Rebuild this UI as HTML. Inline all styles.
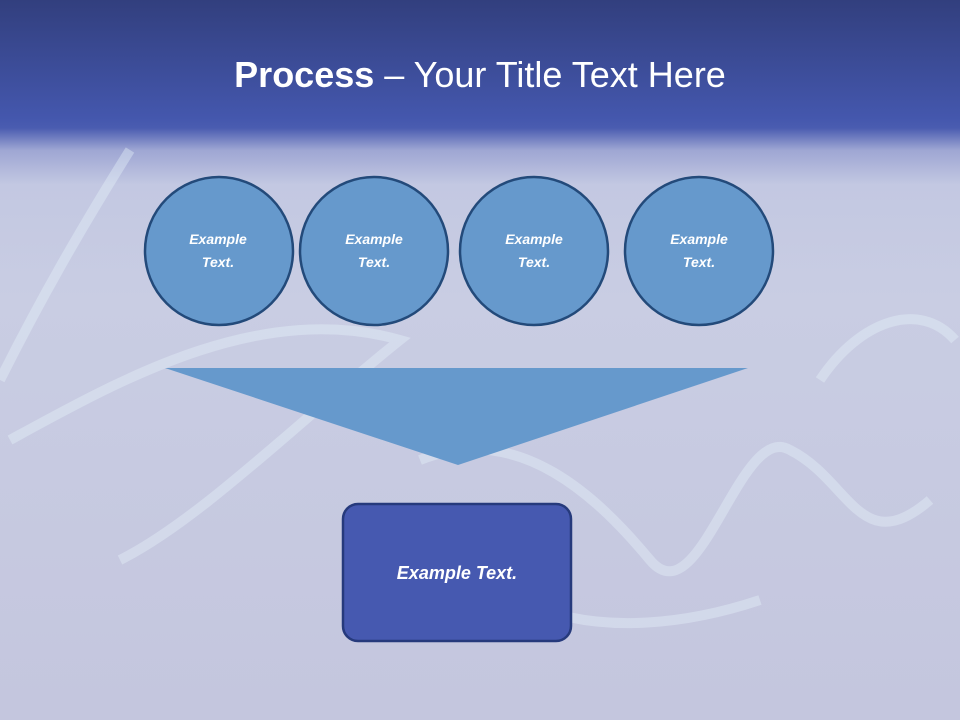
<!DOCTYPE html>
<html><head><meta charset="utf-8"><style>
html,body{margin:0;padding:0}
body{width:960px;height:720px;position:relative;overflow:hidden;font-family:"Liberation Sans",sans-serif;
background:linear-gradient(180deg,#323f7e 0px,#4457ad 118px,#4a5cb0 128px,#9ea6d3 150px,#c3c8e2 185px,#c9cde3 300px,#c4c6de 720px);}
.t{position:absolute;top:54px;left:0;width:960px;text-align:center;color:#fff;font-size:36px}
</style></head><body>
<svg width="960" height="720" style="position:absolute;left:0;top:0">
<g fill="none" stroke="#e6f2fa" stroke-opacity="0.4" stroke-width="10">
<path d="M10 440 C120 380 260 300 400 340 C300 420 200 520 120 560"/>
<path d="M420 460 C520 420 600 500 650 560 C700 620 740 420 790 450 C850 480 860 560 930 500"/>
<path d="M820 380 C860 320 920 300 955 340"/>
<path d="M130 150 C80 230 40 300 0 380"/>
<path d="M520 600 C600 640 700 620 760 600"/>
</g>
<g stroke="#234a7a" stroke-width="2.5" fill="#6699cc">
<circle cx="219" cy="251" r="74"/><circle cx="374" cy="251" r="74"/>
<circle cx="534" cy="251" r="74"/><circle cx="699" cy="251" r="74"/>
</g>
<polygon points="165,368 748,368 458,465" fill="#6699cc"/>
<rect x="343" y="504" width="228" height="137" rx="15" fill="#4659b0" stroke="#263a7c" stroke-width="2.5"/>
<g fill="#fff" font-family="Liberation Sans, sans-serif" font-style="italic" font-weight="bold" font-size="14" text-anchor="middle">
<text x="218" y="244">Example</text><text x="218" y="267">Text.</text>
<text x="374" y="244">Example</text><text x="374" y="267">Text.</text>
<text x="534" y="244">Example</text><text x="534" y="267">Text.</text>
<text x="699" y="244">Example</text><text x="699" y="267">Text.</text>
<text x="457" y="579" font-size="18">Example Text.</text>
</g>
</svg>
<div class="t"><b>Process</b> – Your Title Text Here</div>
</body></html>
